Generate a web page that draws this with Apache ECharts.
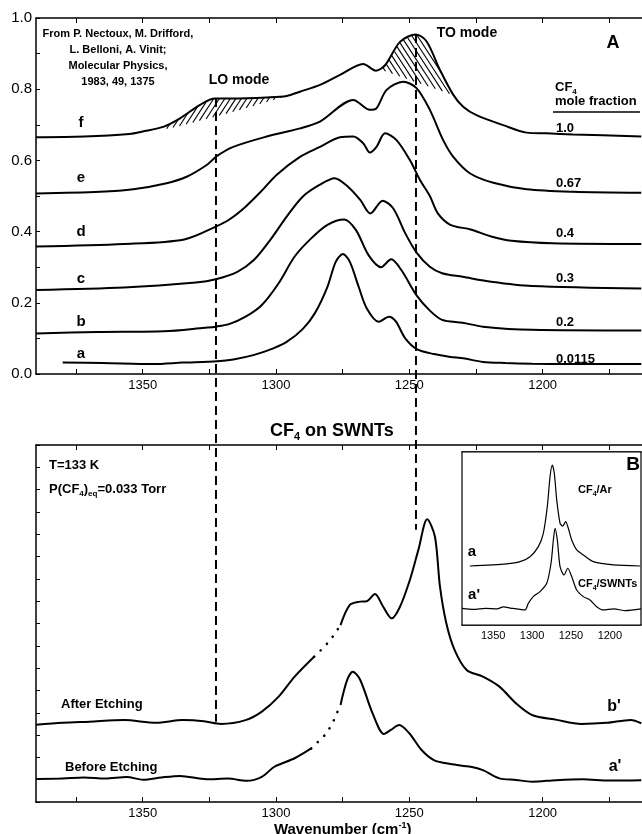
<!DOCTYPE html>
<html><head><meta charset="utf-8">
<script src="https://cdn.jsdelivr.net/npm/echarts@6/dist/echarts.min.js"></script>
<style>html,body{margin:0;padding:0;background:#fff}#c{width:642px;height:834px}</style>
</head><body><div id="c"></div>
<script>
const FONT = '"Liberation Sans", Arial, Helvetica, sans-serif';

// ---------- Panel A : CF4 in Ar matrix (absorbance 0..1) ----------
const xTicks = [1375, 1350, 1325, 1300, 1275, 1250, 1225, 1200, 1175];
const xLabels = [1350, 1300, 1250, 1200];
const yTicksA = [0, 0.1, 0.2, 0.3, 0.4, 0.5, 0.6, 0.7, 0.8, 0.9, 1.0];
const yLabelsA = [0, 0.2, 0.4, 0.6, 0.8, 1.0];

const aX = [1380,1365,1346,1335,1322,1316,1308.5,1301,1296,1290,1285.4,1280.7,1277.6,1274.9,1272.3,1269,1266,1261.5,1257.6,1255,1251.6,1247.2,1240.8,1234.6,1229.8,1222.4,1214,1204,1190,1175,1163];
const aY = [0.032,0.031,0.028,0.032,0.036,0.041,0.053,0.072,0.09,0.126,0.171,0.245,0.315,0.337,0.315,0.245,0.185,0.147,0.161,0.147,0.101,0.07,0.056,0.048,0.044,0.034,0.031,0.029,0.028,0.028,0.028];

const bX = [1390,1367,1342,1326.7,1322.6,1317.6,1311.4,1305.3,1299,1293,1286.8,1280.7,1274.4,1270,1265.3,1260.6,1256.8,1253,1247.2,1242.3,1237.7,1230,1222.4,1204,1163];
const bY = [0.114,0.118,0.12,0.13,0.133,0.14,0.161,0.194,0.255,0.33,0.381,0.419,0.434,0.404,0.334,0.3,0.322,0.292,0.22,0.178,0.152,0.144,0.133,0.124,0.122];

const cX = [1390,1357,1330,1322.6,1314.5,1308.3,1302.2,1296,1290,1283.7,1278,1273,1268.4,1264.6,1260,1256,1251.5,1247.2,1242.3,1237.7,1230,1219.3,1204,1163];
const cY = [0.236,0.243,0.257,0.266,0.287,0.32,0.376,0.442,0.498,0.531,0.55,0.526,0.489,0.451,0.487,0.465,0.395,0.34,0.301,0.283,0.273,0.259,0.247,0.24];

const dX = [1390,1357,1334.4,1322.6,1317.5,1311.4,1305.3,1299.7,1291,1283.5,1276,1271,1267.3,1264.8,1262.3,1259.1,1254.8,1249.8,1246,1242.3,1239.3,1234.6,1227,1219.3,1211.6,1196.3,1163];
const dY = [0.358,0.365,0.378,0.414,0.434,0.47,0.515,0.56,0.61,0.638,0.665,0.667,0.648,0.622,0.638,0.676,0.657,0.601,0.545,0.5,0.451,0.419,0.406,0.386,0.374,0.367,0.365];

const eX = [1390,1366,1353.5,1341,1333.5,1326,1322.2,1316,1303.5,1291,1283.5,1271,1264.8,1262.5,1258.5,1252.3,1247.3,1242.3,1237.3,1233.5,1227.3,1218.5,1206,1188.5,1163];
const eY = [0.507,0.512,0.519,0.536,0.554,0.587,0.612,0.638,0.667,0.69,0.709,0.77,0.742,0.745,0.798,0.821,0.803,0.742,0.657,0.61,0.564,0.537,0.519,0.512,0.509];

const fX = [1390,1372,1355,1350,1342,1336,1328.5,1322.9,1316,1303.5,1296,1291,1283.5,1276,1267.3,1262.5,1259,1253.5,1247.5,1243.5,1238.5,1233.5,1229.8,1224.8,1214.8,1206,1198.5,1188.5,1163];
const fY = [0.665,0.667,0.674,0.681,0.695,0.718,0.756,0.774,0.774,0.777,0.781,0.793,0.812,0.84,0.871,0.852,0.868,0.933,0.954,0.934,0.854,0.784,0.751,0.727,0.699,0.678,0.676,0.673,0.667];

// hatched regions under curve f (LO and TO modes)
const loHatchX   = [1341, 1336, 1328.5, 1322.9, 1316, 1308, 1303.5, 1297];
const loHatchTop = [0.697, 0.718, 0.756, 0.774, 0.774, 0.776, 0.777, 0.781];
const loHatchBot = [0.688, 0.697, 0.712, 0.723, 0.737, 0.754, 0.764, 0.779];
const toHatchX   = [1260.4, 1256, 1253.5, 1250, 1247.5, 1243.5, 1241, 1238.5, 1236, 1233.5];
const toHatchTop = [0.856, 0.9, 0.933, 0.948, 0.954, 0.934, 0.9, 0.854, 0.82, 0.784];
const toHatchBot = [0.854, 0.843, 0.836, 0.827, 0.82, 0.81, 0.803, 0.797, 0.79, 0.784];

const curveLetters = ['a','b','c','d','e','f'];
const moleFractions = ['0.0115','0.2','0.3','0.4','0.67','1.0'];

// mode positions (wavenumber) and where the dashed guide lines end
const modeWN = [1322.5, 1247.5];
const modeTopA = [0.775, 0.955];
const modeBottomB = [3.6, 12.2];

// ---------- Panel B : CF4 on SWNTs (arbitrary units) ----------
const yTicksB = [0,1,2,3,4,5,6,7,8,9,10,11,12,13,14,15,16];

const afterX1 = [1390,1380,1370,1357,1345,1335,1327,1320.6,1311.4,1305.3,1299,1293,1285.7];
const afterY1 = [3.46,3.55,3.6,3.67,3.55,3.67,3.62,3.5,3.67,4.05,4.72,5.62,6.51];
const afterXd = [1285.7,1281.6,1278.5,1275.8];
const afterYd = [6.51,6.99,7.44,7.93];
const afterX2 = [1275.8,1272.3,1268.5,1266,1262.9,1259.8,1256.6,1253.5,1249.8,1246.6,1243.3,1240.4,1238.5,1236.1,1233,1228.5,1222.4,1216.2,1210,1204,1194.7,1185.5,1176,1167,1163];
const afterY2 = [7.93,8.83,8.98,9.0,9.32,8.75,8.23,8.75,9.95,11.3,12.67,11.9,9.65,8.0,6.81,5.92,5.62,5.17,4.42,3.9,3.68,3.5,3.55,3.68,3.53];

const beforeX1 = [1390,1380,1372,1364,1356,1349.8,1343,1336,1326,1318,1311,1305.3,1300.6,1293,1286.8];
const beforeY1 = [1.03,1.05,1.1,1.05,1.12,1.0,1.1,1.17,1.02,1.05,0.95,1.13,1.58,1.96,2.4];
const beforeXd = [1286.8,1281.2,1278.8,1275.8];
const beforeYd = [2.4,3.05,3.53,4.35];
const beforeX2 = [1275.8,1273.3,1271.2,1268.4,1263.8,1259.5,1256.9,1253.8,1250,1245.4,1240.8,1234.6,1227,1222.4,1216.2,1210,1204,1195,1185,1175,1163];
const beforeY2 = [4.35,5.47,5.84,5.47,3.98,3.05,3.23,3.45,3.08,2.33,1.88,1.7,1.58,1.43,1.06,0.99,0.91,0.98,1.02,0.96,0.98];

// ---------- Inset ----------
const insetLabels = [1350, 1300, 1250, 1200];
const insetArX = [1380,1332.5,1315.4,1302.6,1291.9,1285.5,1280.4,1276.9,1274,1271.4,1268.3,1264,1260.6,1256.8,1253.4,1249,1242.6,1234,1221.2,1195.5,1161];
const insetArY = [3.41,3.53,3.66,3.95,4.53,5.3,6.84,8.57,9.25,8.77,7.23,5.88,5.72,5.97,5.59,4.91,4.34,4.05,3.66,3.47,3.41];
const insetSwX = [1390,1375,1360,1345,1337,1325,1309,1304.8,1298.4,1289.7,1281.1,1275.6,1272.6,1270.5,1267.5,1264,1258.9,1254.1,1249,1242.6,1234,1225.5,1216.9,1208.4,1195,1180,1160];
const insetSwY = [0.96,0.9,0.96,0.93,1.05,0.96,0.87,1.25,1.64,1.93,2.41,3.57,4.91,5.59,4.91,3.37,2.89,3.28,2.79,2.02,1.64,1.45,1.06,0.87,0.93,0.83,0.93];

// ---------- helpers ----------
const pairs = (xs, ys) => xs.map((x, i) => [x, ys[i]]);
const blackLine = { color: '#000', width: 1.5 };

function clipSegment(A, B, poly) {
  const ts = [], dx = B[0] - A[0], dy = B[1] - A[1], n = poly.length;
  for (let i = 0; i < n; i++) {
    const P = poly[i], Q = poly[(i + 1) % n];
    const ex = Q[0] - P[0], ey = Q[1] - P[1];
    const den = dx * ey - dy * ex;
    if (Math.abs(den) < 1e-9) continue;
    const t = ((P[0] - A[0]) * ey - (P[1] - A[1]) * ex) / den;
    const u = ((P[0] - A[0]) * dy - (P[1] - A[1]) * dx) / den;
    if (u >= 0 && u < 1 && t >= 0 && t <= 1) ts.push(t);
  }
  ts.sort((a, b) => a - b);
  const segs = [];
  for (let i = 0; i + 1 < ts.length; i += 2) {
    segs.push({ x1: A[0] + dx * ts[i], y1: A[1] + dy * ts[i], x2: A[0] + dx * ts[i + 1], y2: A[1] + dy * ts[i + 1] });
  }
  return segs;
}
function hatchSeries(xs, tops, bots, dir) {
  return {
    type: 'custom', coordinateSystem: 'cartesian2d', xAxisIndex: 0, yAxisIndex: 0, z: 2, silent: true,
    data: [[xs[0], tops[0]]],
    renderItem: (params, api) => {
      const top = xs.map((x, i) => api.coord([x, tops[i]]));
      const bot = xs.map((x, i) => api.coord([x, bots[i]])).reverse();
      const poly = top.concat(bot);
      const X = poly.map(p => p[0]), Y = poly.map(p => p[1]);
      const minX = Math.min(...X), maxX = Math.max(...X), minY = Math.min(...Y) - 1, maxY = Math.max(...Y) + 1;
      const H = maxY - minY, slant = 0.65, step = 5.5;
      const children = [];
      for (let k = minX - slant * H - step; k <= maxX + slant * H + step; k += step) {
        const A = [k, maxY], B = [k + dir * slant * H, minY];
        clipSegment(A, B, poly).forEach(s => children.push({ type: 'line', shape: s, style: { stroke: '#000', lineWidth: 1.1 } }));
      }
      return { type: 'group', children };
    }
  };
}
function xAxisCfg(grid, pos, showLabels, fontSize, tickLen) {
  return {
    type: 'value', gridIndex: grid, position: pos, min: 1160, max: 1390, inverse: true,
    axisLine: { show: true, onZero: false, lineStyle: blackLine },
    axisTick: { show: true, inside: true, length: tickLen, customValues: xTicks, lineStyle: { color: '#000', width: 1 } },
    axisLabel: { show: showLabels, customValues: grid === 2 ? insetLabels : xLabels, formatter: v => String(v),
      color: '#000', fontSize: fontSize, fontFamily: FONT, margin: 5 },
    splitLine: { show: false }
  };
}
function lineSeries(name, xi, yi, xs, ys, extra) {
  return Object.assign({
    name, type: 'line', xAxisIndex: xi, yAxisIndex: yi, data: pairs(xs, ys),
    showSymbol: false, smooth: 0.3, lineStyle: { color: '#000', width: 2 }, z: 4, silent: true, animation: false
  }, extra || {});
}

const chart = echarts.init(document.getElementById('c'), null, { renderer: 'canvas' });

const xAxes = [
  xAxisCfg(0, 'bottom', true, 13, 5),
  xAxisCfg(0, 'top', false, 13, 5),
  Object.assign(xAxisCfg(1, 'bottom', true, 13, 5), {
    name: '{a|Wavenumber (cm}{b|-1}{a|)}', nameLocation: 'middle', nameGap: 17,
    nameTextStyle: { rich: {
      a: { fontSize: 15, fontWeight: 'bold', fontFamily: FONT, color: '#000', lineHeight: 18 },
      b: { fontSize: 9, fontWeight: 'bold', fontFamily: FONT, color: '#000', lineHeight: 9, verticalAlign: 'top' } } }
  }),
  xAxisCfg(1, 'top', false, 13, 5),
  xAxisCfg(2, 'bottom', true, 11, 3),
  xAxisCfg(2, 'top', false, 11, 3)
];
const yAxes = [
  { type: 'value', gridIndex: 0, min: 0, max: 1,
    axisLine: { show: true, lineStyle: blackLine },
    axisTick: { show: true, inside: true, length: 4, customValues: yTicksA, lineStyle: { color: '#000' } },
    axisLabel: { customValues: yLabelsA, formatter: v => v.toFixed(1), color: '#000', fontSize: 15, fontFamily: FONT, margin: 4 },
    splitLine: { show: false } },
  { type: 'value', gridIndex: 1, min: 0, max: 16,
    axisLine: { show: true, lineStyle: blackLine },
    axisTick: { show: true, inside: true, length: 4, customValues: yTicksB, lineStyle: { color: '#000' } },
    axisLabel: { show: false }, splitLine: { show: false } },
  { type: 'value', gridIndex: 2, min: 0, max: 10,
    axisLine: { show: false }, axisTick: { show: false }, axisLabel: { show: false }, splitLine: { show: false } }
];

const dots = { color: '#000', width: 2.6, type: [0.1, 9], cap: 'round' };
const series = [
  hatchSeries(loHatchX, loHatchTop, loHatchBot, 1),
  hatchSeries(toHatchX, toHatchTop, toHatchBot, -1),
  lineSeries('a', 0, 0, aX, aY),
  lineSeries('b', 0, 0, bX, bY),
  lineSeries('c', 0, 0, cX, cY),
  lineSeries('d', 0, 0, dX, dY),
  lineSeries('e', 0, 0, eX, eY),
  lineSeries('f', 0, 0, fX, fY),
  lineSeries("b' 1", 2, 1, afterX1, afterY1),
  lineSeries("b' dots", 2, 1, afterXd, afterYd, { smooth: false, lineStyle: dots }),
  lineSeries("b' 2", 2, 1, afterX2, afterY2),
  lineSeries("a' 1", 2, 1, beforeX1, beforeY1),
  lineSeries("a' dots", 2, 1, beforeXd, beforeYd, { smooth: false, lineStyle: dots }),
  lineSeries("a' 2", 2, 1, beforeX2, beforeY2),
  lineSeries('inset a', 4, 2, insetArX, insetArY, { lineStyle: { color: '#000', width: 1.2 }, smooth: 0.25, z: 20 }),
  lineSeries("inset a'", 4, 2, insetSwX, insetSwY, { lineStyle: { color: '#000', width: 1.2 }, smooth: 0.25, z: 20 })
];

chart.setOption({
  animation: false,
  backgroundColor: '#fff',
  grid: [
    { left: 36, top: 18, width: 613.3, height: 356, outerBoundsMode: 'none', containLabel: false },
    { left: 36, top: 445, width: 613.3, height: 357, outerBoundsMode: 'none', containLabel: false },
    { left: 462, top: 452, width: 179, height: 173, outerBoundsMode: 'none', containLabel: false,
      show: true, backgroundColor: '#fff', borderColor: '#000', borderWidth: 1.2, z: 5 }
  ],
  xAxis: xAxes,
  yAxis: yAxes,
  series: series
});

// ---------- annotations ----------
const txt = (text, x, y, font, align, extra) => ({
  type: 'text', z: 50, silent: true,
  style: Object.assign({ text, x, y, font, fill: '#000', align: align || 'left', verticalAlign: 'middle',
    textAlign: align || 'left', textVerticalAlign: 'middle' }, extra || {})
});
const bold = px => 'bold ' + px + 'px ' + FONT;
const subRich = (px, subPx) => ({
  n: { font: bold(px), fill: '#000', lineHeight: px + 4 },
  s: { font: bold(subPx), fill: '#000', lineHeight: subPx, verticalAlign: 'bottom' }
});

const letterY = [354, 322, 279, 232, 178, 122.7];
const fracY = [359, 322, 278, 233, 183, 128];
const graphics = [];

graphics.push(txt('From P. Nectoux, M. Drifford,\nL. Belloni, A. Vinit;\nMolecular Physics,\n1983, 49, 1375', 118, 58, bold(11), 'center', { lineHeight: 16 }));
graphics.push(txt('LO mode', 239, 80, bold(14), 'center'));
graphics.push(txt('TO mode', 467, 33, bold(14), 'center'));
graphics.push(txt('A', 613, 43, bold(18), 'center'));
curveLetters.forEach((l, i) => graphics.push(txt(l, 81, letterY[i], bold(15), 'center')));
graphics.push(txt('{n|CF}{s|4}', 555, 87, null, 'left', { rich: subRich(13, 8) }));
graphics.push(txt('mole fraction', 555, 101, bold(13), 'left'));
graphics.push({ type: 'line', z: 50, silent: true, shape: { x1: 553, y1: 112, x2: 640, y2: 112 }, style: { stroke: '#000', lineWidth: 1.3 } });
moleFractions.forEach((m, i) => graphics.push(txt(m, 556, fracY[i], bold(13), 'left')));

graphics.push(txt('{n|CF}{s|4}{n| on SWNTs}', 270, 431, null, 'left', { rich: subRich(18, 11) }));
graphics.push(txt('T=133 K', 49, 465, bold(13), 'left'));
graphics.push(txt('{n|P(CF}{s|4}{n|)}{s|eq}{n|=0.033 Torr}', 49, 489, null, 'left', { rich: subRich(13, 8) }));
graphics.push(txt('After Etching', 61, 704, bold(13), 'left'));
graphics.push(txt('Before Etching', 65, 767, bold(13), 'left'));
graphics.push(txt("b'", 614, 707, bold(16), 'center'));
graphics.push(txt("a'", 615, 767, bold(16), 'center'));

graphics.push(txt('B', 633, 465, bold(19), 'center'));
graphics.push(txt('{n|CF}{s|4}{n|/Ar}', 578, 490, null, 'left', { rich: subRich(11, 7) }));
graphics.push(txt('{n|CF}{s|4}{n|/SWNTs}', 578, 584, null, 'left', { rich: subRich(11, 7) }));
graphics.push(txt('a', 472, 552, bold(15), 'center'));
graphics.push(txt("a'", 474, 595, bold(15), 'center'));

// dashed guide lines from panel A down into panel B
modeWN.forEach((wn, i) => {
  const p1 = chart.convertToPixel({ xAxisIndex: 0, yAxisIndex: 0 }, [wn, modeTopA[i]]);
  const p2 = chart.convertToPixel({ xAxisIndex: 2, yAxisIndex: 1 }, [wn, modeBottomB[i]]);
  graphics.push({ type: 'line', z: 40, silent: true,
    shape: { x1: p1[0], y1: p1[1], x2: p2[0], y2: p2[1] },
    style: { stroke: '#000', lineWidth: 2, lineDash: [9, 5] } });
});

chart.setOption({ graphic: graphics });
</script>
</body></html>
